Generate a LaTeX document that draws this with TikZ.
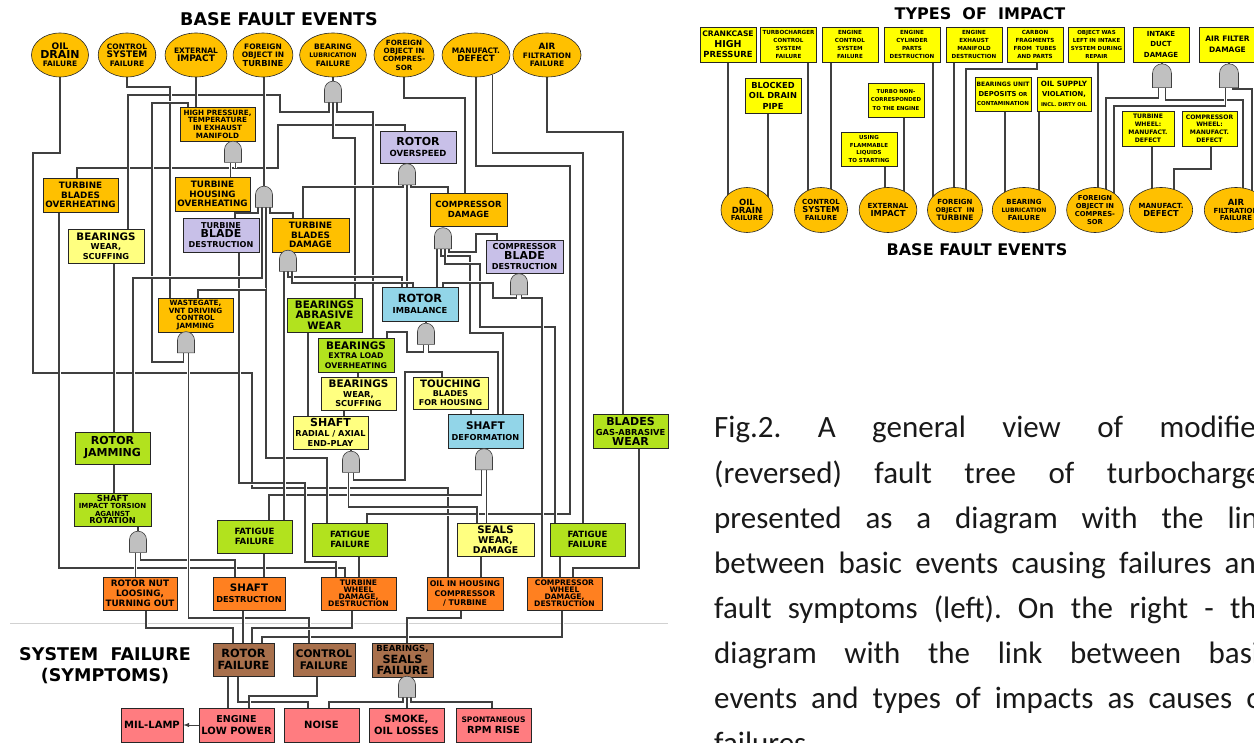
\documentclass[tikz,border=0pt]{standalone}
\usepackage{fontspec}
\setmainfont{DejaVu Sans}
\newfontfamily\capfont{Carlito}
\usepackage{tikz}
\usetikzlibrary{positioning}
\usetikzlibrary{arrows,shapes}
\usetikzlibrary{shapes.geometric,shapes.gates.logic.US}
\definecolor{gold}{RGB}{255,192,0}
\definecolor{lilac}{RGB}{200,192,232}
\definecolor{skyb}{RGB}{146,213,232}
\definecolor{grn}{RGB}{178,226,30}
\definecolor{paley}{RGB}{255,255,128}
\definecolor{orng}{RGB}{255,128,32}
\definecolor{brwn}{RGB}{168,112,76}
\definecolor{pnk}{RGB}{255,124,128}
\definecolor{yel}{RGB}{255,255,0}
\definecolor{wirec}{RGB}{64,64,64}
\definecolor{gatec}{RGB}{192,192,192}
\newcommand{\fs}[1]{\fontsize{#1}{\fpeval{1.12*#1}}\selectfont}
\newcommand{\fp}[2]{\fontsize{#1}{#2}\selectfont}
\tikzstyle{evt}=[ellipse,draw=black!85,fill=gold,line width=0.6pt,minimum width=57pt,minimum height=44pt,inner sep=0pt,align=center,font=\bfseries\fs{7.5}]
\tikzstyle{blk}=[rectangle,draw=black!85,line width=0.7pt,minimum width=76pt,minimum height=33pt,inner sep=0pt,align=center,font=\bfseries\fs{8.5}]
\tikzstyle{ibox}=[blk,fill=yel,minimum width=56pt,minimum height=35pt,font=\bfseries\fs{5.6}]
\tikzstyle{andg}=[and gate US,draw=black!75,fill=gatec,rotate=90,minimum width=19pt,minimum height=17pt,logic gate inputs=nn,logic gate input sep=3.5pt,inner sep=0pt,line width=0.6pt]
\tikzstyle{wire}=[draw=wirec,line width=1.1pt,preaction={draw=white,line width=3pt}]
\tikzstyle{ttl}=[inner sep=0pt,font=\bfseries\fs{17.5}]
\tikzstyle{capline}=[anchor=base west,inner sep=0pt,font=\capfont\fs{31}\frenchspacing,text=black!90]
\pgfdeclarelayer{background}
\pgfsetlayers{background,main}

\begin{document}
\begin{tikzpicture}[x=1pt,y=-1pt]
\useasboundingbox (0,0) rectangle (1254,743);
\clip (0,0) rectangle (1254,743);

 %titles
 \node[ttl] (ttlbase) at (279,19) {BASE FAULT EVENTS};
 \node[ttl,align=center,font={\bfseries\fp{17.5}{21}}] (symp) at (105,666) {SYSTEM\ \ FAILURE\\(SYMPTOMS)};
 \node[ttl,font=\bfseries\fs{16}] (ttltyp) at (980,14) {TYPES\ \ OF\ \ IMPACT};
 \node[ttl,font=\bfseries\fs{16}] (ttlbr) at (977,250) {BASE FAULT EVENTS};

 %base fault events (left)
 \foreach \x/\name/\txt in {60/oild/{{\fs{9}OIL}\\{\fs{11}DRAIN}\\FAILURE},
     127/ctrl/{CONTROL\\{\fs{9}SYSTEM}\\FAILURE},
     196/extr/{EXTERNAL\\{\fs{9}IMPACT}},
     263/fotu/{FOREIGN\\OBJECT\ IN\\{\fs{8.3}TURBINE}},
     333/blub/{BEARING\\{\fs{6.3}LUBRICATION}\\FAILURE},
     404/foco/{{\fs{7.2}FOREIGN}\\{\fs{7.2}OBJECT\ IN}\\{\fs{7.2}COMPRES-}\\{\fs{7.2}SOR}},
     476/mand/{MANUFACT.\\{\fs{8.7}DEFECT}},
     547/airf/{{\fs{8.7}AIR}\\FILTRATION\\FAILURE}}
   \node[evt] (\name) at (\x,55) {\txt};

 %intermediate events
 \node[blk,fill=gold,minimum width=75pt,minimum height=34pt,font={\bfseries\fp{7.2}{7.6}}] (hpt) at (217.5,124) {HIGH PRESSURE,\\TEMPERATURE\\IN EXHAUST\\MANIFOLD};
 \node[blk,fill=gold,minimum width=75pt,minimum height=34pt,font={\bfseries\fp{8.8}{9.6}}] (tbov) at (80.5,195) {TURBINE\\BLADES\\OVERHEATING};
 \node[blk,fill=gold,minimum width=75pt,minimum height=34pt,font={\bfseries\fp{8.8}{9.6}}] (thov) at (212.5,194) {TURBINE\\HOUSING\\OVERHEATING};
 \node[blk,fill=paley,minimum height=34pt,font={\bfseries\fp{8.2}{9.6}}] (bws1) at (106,246) {{\fs{10.3}BEARINGS}\\WEAR,\\SCUFFING};
 \node[blk,fill=lilac,minimum height=34pt,font={\bfseries\fp{8.1}{9.8}}] (tbld) at (221,235) {TURBINE\\{\fs{11}BLADE}\\DESTRUCTION};
 \node[blk,fill=gold,minimum width=77pt,minimum height=34pt,font={\bfseries\fp{8.8}{9.6}}] (tbdm) at (310.5,235) {TURBINE\\BLADES\\DAMAGE};
 \node[blk,fill=lilac,minimum height=32pt,font={\bfseries\fp{8.5}{11}}] (rovs) at (418,147) {{\fs{11}ROTOR}\\OVERSPEED};
 \node[blk,fill=gold,minimum width=77pt,font={\bfseries\fp{8.5}{10.5}}] (cmpd) at (468.5,209.5) {COMPRESSOR\\DAMAGE};
 \node[blk,fill=lilac,minimum width=77pt,font={\bfseries\fp{8.2}{9.6}}] (cbld) at (524.5,256.5) {COMPRESSOR\\{\fs{11}BLADE}\\DESTRUCTION};
 \node[blk,fill=skyb,minimum height=34pt,font={\bfseries\fp{8.3}{11}}] (rimb) at (420,304) {{\fs{11.3}ROTOR}\\IMBALANCE};
 \node[blk,fill=gold,minimum width=75pt,minimum height=34pt,font={\bfseries\fp{7.2}{7.6}}] (wgat) at (195.5,315) {WASTEGATE,\\VNT DRIVING\\CONTROL\\JAMMING};
 \node[blk,fill=grn,minimum width=75pt,minimum height=34pt,font={\bfseries\fp{10.3}{10.4}}] (babr) at (324.5,315) {BEARINGS\\ABRASIVE\\WEAR};
 \node[blk,fill=grn,minimum height=34pt,font={\bfseries\fp{7.8}{9.4}}] (bexl) at (356,355) {{\fs{10.4}BEARINGS}\\EXTRA LOAD\\OVERHEATING};
 \node[blk,fill=paley,minimum width=75pt,font={\bfseries\fp{8.2}{9.4}}] (bws2) at (358.5,393.5) {{\fs{10.4}BEARINGS}\\WEAR,\\SCUFFING};
 \node[blk,fill=paley,minimum width=75pt,minimum height=32pt,font={\bfseries\fp{8}{9.2}}] (touc) at (450.5,393) {{\fs{10.2}TOUCHING}\\BLADES\\FOR HOUSING};
 \node[blk,fill=paley,minimum width=75pt,font={\bfseries\fp{8.2}{9.6}}] (shep) at (330.5,432.5) {{\fs{11}SHAFT}\\RADIAL / AXIAL\\END-PLAY};
 \node[blk,fill=skyb,minimum width=75pt,minimum height=34pt,font={\bfseries\fp{8.2}{11}}] (shdf) at (485.5,431) {{\fs{10.5}SHAFT}\\DEFORMATION};
 \node[blk,fill=grn,minimum width=75pt,minimum height=34pt,font={\bfseries\fp{8.3}{10}}] (bgas) at (630.5,431) {{\fs{11}BLADES}\\GAS-ABRASIVE\\{\fs{11}WEAR}};
 \node[blk,fill=grn,minimum width=75pt,minimum height=32pt,font={\bfseries\fp{11}{12}}] (rjam) at (112.5,448) {ROTOR\\JAMMING};
 \node[blk,fill=grn,minimum width=77pt,font={\bfseries\fp{7}{7.6}}] (sitr) at (112.5,509.5) {{\fs{8.4}SHAFT}\\IMPACT TORSION\\AGAINST\\{\fs{8.2}ROTATION}};
 \foreach \x/\name in {254.5/ftg1, 350/ftg2, 587.5/ftg3}
   \node[blk,fill=grn,minimum width=75pt,font={\bfseries\fp{8.6}{10.5}}] (\name) at (\x,{\x<300 ? 536.5 : 539.5}) {FATIGUE\\FAILURE};
 \node[blk,fill=paley,minimum width=77pt,font={\bfseries\fp{9.3}{10}}] (sewd) at (495.5,539.5) {{\fs{10.3}SEALS}\\WEAR,\\DAMAGE};

 %consequences
 \node[blk,fill=orng,minimum width=74pt,font={\bfseries\fp{8.8}{9.8}}] (rnut) at (140,593.5) {ROTOR NUT\\LOOSING,\\TURNING OUT};
 \node[blk,fill=orng,minimum width=72pt,font={\bfseries\fp{8.2}{11}}] (shds) at (249,593.5) {{\fs{10.3}SHAFT}\\DESTRUCTION};
 \node[blk,fill=orng,minimum width=75pt,font={\bfseries\fp{7.6}{6.9}}] (twdd) at (358.5,593.5) {TURBINE\\WHEEL\\DAMAGE,\\DESTRUCTION};
 \node[blk,fill=orng,font={\bfseries\fp{7.8}{9.2}}] (oihc) at (465,593.5) {OIL IN HOUSING\\COMPRESSOR\\/ TURBINE};
 \node[blk,fill=orng,minimum width=75pt,font={\bfseries\fp{7.6}{6.9}}] (cwdd) at (564.5,593.5) {COMPRESSOR\\WHEEL\\DAMAGE,\\DESTRUCTION};

 %system failure
 \node[blk,fill=brwn,minimum width=61pt,font={\bfseries\fp{11.3}{12.5}}] (rotf) at (243.5,659.5) {ROTOR\\FAILURE};
 \node[blk,fill=brwn,minimum width=62pt,font={\bfseries\fp{10.5}{12.5}}] (ctlf) at (324,659.5) {CONTROL\\FAILURE};
 \node[blk,fill=brwn,minimum width=61pt,minimum height=34pt,font={\bfseries\fp{11.3}{11.4}}] (bsfl) at (402.5,660) {{\fs{8.5}BEARINGS,}\\SEALS\\FAILURE};

 %symptoms
 \node[blk,fill=pnk,minimum width=62pt,minimum height=34pt,font={\bfseries\fp{10}{12}}] (mlmp) at (152,725) {MIL-LAMP};
 \node[blk,fill=pnk,minimum width=75pt,minimum height=34pt,font={\bfseries\fp{10}{11.5}}] (elpw) at (236.5,725) {{\fs{9.5}ENGINE}\\LOW POWER};
 \node[blk,fill=pnk,minimum width=75pt,minimum height=34pt,font={\bfseries\fp{10}{12}}] (nois) at (321.5,725) {NOISE};
 \node[blk,fill=pnk,minimum width=75pt,minimum height=34pt,font={\bfseries\fp{10}{11.5}}] (smol) at (406.5,725) {SMOKE,\\OIL LOSSES};
 \node[blk,fill=pnk,minimum width=75pt,minimum height=34pt,font={\bfseries\fp{9.8}{11}}] (sprr) at (493.5,725) {{\fs{7.6}SPONTANEOUS}\\RPM RISE};

 %gates
 \foreach \x/\y/\name in {333/92.5/gbl, 233/152.5/ghp, 264/197.5/gft, 407/175/gro, 443/239/gcd,
     288/261.5/gtb, 519/285/gcb, 426/334.5/gri, 186/343/gwg, 351/462.5/gsp, 484/460/gsd,
     138/542.5/gsi, 407/687.5/gbs}
   \node[andg] (\name) at (\x,\y) {};

 %types of impact
 \node[ibox,font={\bfseries\fp{7.6}{10.5}}] (crkc) at (728,44.5) {CRANKCASE\\{\fs{9.5}HIGH}\\{\fs{8.4}PRESSURE}};
 \node[ibox,font={\bfseries\fp{5.6}{8.2}}] (tccs) at (788.5,44.5) {TURBOCHARGER\\CONTROL\\SYSTEM\\FAILURE};
 \node[ibox,font={\bfseries\fp{5.6}{8.2}}] (encs) at (850,44.5) {ENGINE\\CONTROL\\SYSTEM\\FAILURE};
 \node[ibox,font={\bfseries\fp{5.6}{8.2}}] (ecyl) at (912,44.5) {ENGINE\\CYLINDER\\PARTS\\DESTRUCTION};
 \node[ibox,font={\bfseries\fp{5.6}{8.2}}] (eexh) at (974,44.5) {ENGINE\\EXHAUST\\MANIFOLD\\DESTRUCTION};
 \node[ibox,font={\bfseries\fp{5.6}{8.2}}] (carb) at (1035,44.5) {CARBON\\FRAGMENTS\\FROM\ \ TUBES\\AND PARTS};
 \node[ibox,font={\bfseries\fp{5.5}{8.2}}] (objl) at (1096.5,44.5) {OBJECT WAS\\LEFT IN INTAKE\\SYSTEM DURING\\REPAIR};
 \node[ibox,font={\bfseries\fp{7}{10.5}}] (intd) at (1161,44.5) {INTAKE\\DUCT\\DAMAGE};
 \node[ibox,minimum width=57pt,font={\bfseries\fp{7.5}{10.5}}] (airr) at (1227.5,44.5) {AIR FILTER\\DAMAGE};
 \node[ibox,font={\bfseries\fp{8.3}{10.5}}] (blkd) at (773,95.5) {BLOCKED\\OIL DRAIN\\PIPE};
 \node[ibox,minimum height=34pt,font={\bfseries\fp{5.4}{8.2}}] (tbnc) at (896,100) {TURBO NON-\\CORRESPONDED\\TO THE ENGINE};
 \node[ibox,minimum height=34pt,font={\bfseries\fp{5.5}{7.6}}] (uflm) at (869,149) {USING\\FLAMMABLE\\LIQUIDS\\TO STARTING};
 \node[ibox,minimum height=34pt,font={\bfseries\fp{5.5}{9.5}}] (bude) at (1003,94) {{\fs{6}BEARINGS UNIT}\\{\fs{6.8}DEPOSITS} OR\\CONTAMINATION};
 \node[ibox,minimum width=54pt,minimum height=34pt,font={\bfseries\fp{5.2}{9.8}}] (oils) at (1064,94) {{\fs{7.2}OIL SUPPLY}\\{\fs{6.8}VIOLATION,}\\INCL. DIRTY OIL};
 \node[ibox,minimum width=52pt,font={\bfseries\fp{6.1}{7.8}}] (twmd) at (1148,128.5) {TURBINE\\WHEEL:\\MANUFACT.\\DEFECT};
 \node[ibox,minimum width=55pt,font={\bfseries\fp{6.1}{7.8}}] (cwmd) at (1209.5,128.5) {COMPRESSOR\\WHEEL:\\MANUFACT.\\DEFECT};
 \foreach \x/\name in {1162/gid, 1229/gaf}
   \node[andg,minimum width=23pt,minimum height=19pt,logic gate input sep=4pt] (\name) at (\x,76.5) {};

 %base fault events (right)
 \foreach \x/\name/\txt in {747/rold/{{\fs{8.5}OIL}\\{\fs{8.5}DRAIN}\\FAILURE},
     821/rctl/{CONTROL\\{\fs{8.2}SYSTEM}\\FAILURE},
     888/rext/{EXTERNAL\\{\fs{8.3}IMPACT}},
     955/rfot/{FOREIGN\\{\fs{6.5}OBJECT\ \ IN}\\{\fs{7.5}TURBINE}},
     1024/rblu/{BEARING\\{\fs{6}LUBRICATION}\\FAILURE},
     1095/rfoc/{{\fs{6.8}FOREIGN}\\{\fs{6.8}OBJECT\ IN}\\{\fs{6.8}COMPRES-}\\{\fs{6.8}SOR}},
     1161/rman/{MANUFACT.\\{\fs{8.2}DEFECT}},
     1236/rair/{{\fs{8.5}AIR}\\FILTRATION\\FAILURE}}
   \node[evt,minimum width=52pt,minimum height=45pt,font=\bfseries\fs{7}] (\name) at (\x,210) {\txt};

 %caption
 \foreach \capt [count=\i] in {{Fig.2. A general view of modified},
     {(reversed) fault tree of turbocharger},
     {presented as a diagram with the link},
     {between basic events causing failures and},
     {fault symptoms (left). On the right - the},
     {diagram with the link between basic},
     {events and types of impacts as causes of}}
   \node[capline] (cap\i) at (714,{438+45*(\i-1)}) {\makebox[558pt][s]{\capt}};
 \node[capline] (cap8) at (714,753) {failures.};

\begin{pgfonlayer}{background}
 \draw[black!18,line width=0.8pt] (10,623) -- (668,623);

 %long runs first
 \path[wire] (oild.south) |- (33,153) -- (33,373) -- (252,373) -- (252,488) -- (448,488) -- (oihc.north -| 448,0);
 \path[wire] (rovs.north -| 405,0) |- (278,125) -- (278,168) -- (77,168) -- (tbov.north -| 77,0);
 \path[wire] ([xshift=-4pt,yshift=-9.5pt]gbl.center) |- (280,112) -- (280,95) -- (128,95) -- (bws1.north -| 128,0);
 \path[wire] (tbov.south -| 59,0) |- (345,568) -- (twdd.north -| 345,0);
 \path[wire] (gsi.input 2) |- (235,560) -- (shds.north -| 235,0);
 \path[wire] (cwdd.south -| 562,0) |- (262,637) -- (rotf.north -| 262,0);
 \path[wire] (mand.south) |- (570,166) -- (570,514) -- (367,514) -- (ftg2.north -| 367,0);
 \path[wire] (mand.-50) |- (583,153) -- (ftg3.north -| 583,0);
 \path[wire] (airf.south) |- (623,132) -- (bgas.north -| 623,0);
 \path[wire] (foco.south) |- (465,98) -- (cmpd.north -| 465,0);
 \path[wire] (ctrl.south) |- (170,87) -- (wgat.north -| 170,0);
 \path[wire] (gwg.input 1) |- (152,362) -- (152,103) -- (188,103) -- (hpt.north -| 188,0);
 \path[wire] (gwg.input 2) |- (309,618) -- (ctlf.north -| 309,0);
 \path[wire] (gsd.input 1) |- (269,495) -- (ftg1.north -| 269,0);
 \path[wire] (tbld.south -| 239,0) |- (305,483) -- (305,562) -- (336,562) -- (twdd.north -| 336,0);
 \path[wire] (bgas.south -| 639,0) |- (573,568) -- (cwdd.north -| 573,0);

 %bearing lubrication gate
 \path[wire] ([yshift=-9.5pt]gbl.center) |- (355,138) -- (babr.north -| 355,0);
 \path[wire] ([xshift=4pt,yshift=-9.5pt]gbl.center) |- (373,112) -- (bexl.north -| 373,0);

 %high pressure gate
 \path[wire] (ghp.input 1) -- (ghp.input 1 |- thov.north);
 \path[wire] (ghp.input 2) -- (ghp.input 2 |- 0,168.5);

 %foreign object in turbine gate
 \path[wire] ([xshift=-6pt,yshift=-9.5pt]gft.center) |- (235,213) -- (tbld.north -| 235,0);
 \path[wire] ([xshift=-2pt,yshift=-9.5pt]gft.center) |- (133,278) -- (rjam.north -| 133,0);
 \path[wire] ([xshift=2pt,yshift=-9.5pt]gft.center) |- (327,458) -- (ftg2.north -| 327,0);
 \path[wire] (wgat.north -| 198,0) |- (266,290);
 \path[wire] ([xshift=6pt,yshift=-9.5pt]gft.center) |- (293,213) -- (tbdm.north -| 293,0);

 %rotor overspeed gate
 \path[wire] ([xshift=-4pt,yshift=-9.5pt]gro.center) |- (303,187) -- (tbdm.north -| 303,0);
 \path[wire] ([yshift=-9.5pt]gro.center) -- (gro.center |- rimb.north);
 \path[wire] ([xshift=4pt,yshift=-9.5pt]gro.center) |- (448,187) -- (cmpd.north -| 448,0);

 %compressor damage gate
 \path[wire] ([xshift=-6pt,yshift=-9.5pt]gcd.center) -- ([xshift=-6pt]gcd.center |- rimb.north);
 \path[wire] ([xshift=-2pt,yshift=-9.5pt]gcd.center) |- (470,256) -- (470,333) -- (503,333) -- (shdf.north -| 503,0);
 \path[wire] ([xshift=2pt,yshift=-9.5pt]gcd.center) |- (480,264) -- (480,327) -- (555,327) -- (ftg3.north -| 555,0);
 \path[wire] ([xshift=6pt,yshift=-9.5pt]gcd.center) |- (476,252) -- (476,234) -- (497,234) -- (cbld.north -| 497,0);

 %turbine blades damage gate
 \path[wire] ([xshift=-4pt,yshift=-9.5pt]gtb.center) -- ([xshift=-4pt]gtb.center |- ftg1.north);
 \path[wire] ([yshift=-9.5pt]gtb.center) |- (402,277) -- (rimb.north -| 402,0);
 \path[wire] ([xshift=4pt,yshift=-9.5pt]gtb.center) |- (413,283) -- (rimb.north -| 413,0);

 %compressor blade gate
 \path[wire] (gcb.input 1) |- (493,298) -- (493,283) -- (443,283) -- (rimb.north -| 443,0);
 \path[wire] (gcb.input 2) |- (542,298) -- (cwdd.north -| 542,0);

 %rotor imbalance gate
 \path[wire] (gri.input 1) |- (407,352) -- (407,332) -- (387,332) -- (bexl.north -| 387,0);
 \path[wire] (gri.input 2) |- (498,352) -- (shdf.north -| 498,0);

 %shaft gates
 \path[wire] (gsp.input 1) |- (477,507) -- (sewd.north -| 477,0);
 \path[wire] (gsp.input 2) |- (405,480) -- (405,372) -- (442,372) -- (touc.north -| 442,0);
 \path[wire] (gsd.input 2) -- (gsd.input 2 |- sewd.north);
 \path[wire] (gsi.input 1) -- (gsi.input 1 |- rnut.north);

 %gate outputs
 \foreach \gname/\pname in {gbl/blub, ghp/hpt, gft/fotu, gro/rovs, gcd/cmpd, gtb/tbdm, gcb/cbld,
     gri/rimb, gwg/wgat, gsp/shep, gsd/shdf, gsi/sitr, gbs/bsfl, gid/intd, gaf/airr}
   \path[wire] (\gname.output) -- (\gname.output |- \pname.south);

 \path[wire] (extr.south) -- (extr.south |- hpt.north);
 \foreach \src/\dst/\x in {bws1/rjam/114, rjam/sitr/114, babr/shep/308, bexl/bws2/358, bws2/shep/344,
     touc/shdf/471, ftg1/shds/264, ftg2/twdd/359, sewd/oihc/481, ftg3/cwdd/560, shds/rotf/243, rotf/elpw/228}
   \path[wire] (\src.south -| \x,0) -- (\dst.north -| \x,0);

 %to system failure
 \path[wire] (rnut.south -| 146,0) |- (233,628) -- (rotf.north -| 233,0);
 \path[wire] (twdd.south -| 352,0) |- (252,628) -- (rotf.north -| 252,0);
 \path[wire] (oihc.south -| 461,0) |- (407,618) -- (bsfl.north -| 407,0);

 %to symptoms
 \path[wire] (rotf.south -| 238,0) |- (308,702) -- (nois.north -| 308,0);
 \path[wire] (ctlf.south -| 317,0) |- (249,696) -- (elpw.north -| 249,0);
 \path[wire] ([xshift=-4pt,yshift=-9.5pt]gbs.center) |- (329,702) -- (nois.north -| 329,0);
 \path[wire] ([yshift=-9.5pt]gbs.center) -- (gbs.center |- smol.north);
 \path[wire] ([xshift=4pt,yshift=-9.5pt]gbs.center) |- (492,702) -- (sprr.north -| 492,0);
 \draw[wirec,line width=1pt,-latex] (elpw.west) -- (mlmp.east);

 %types of impact to base events
 \foreach \src/\dst/\x in {crkc/rold/728, blkd/rold/768, tccs/rctl/808, encs/rctl/831, uflm/rext/885,
     tbnc/rext/904, ecyl/rfot/933, eexh/rfot/954, bude/rblu/1005, oils/rblu/1039, objl/rfoc/1098, twmd/rman/1152}
   \path[wire] (\src.south -| \x,0) -- (\dst.center -| \x,0);
 \path[wire] (carb.south -| 1037,0) |- (966,69) -- (rfot.center -| 966,0);
 \path[wire] (cwmd.south -| 1211,0) |- (1174,169) -- (rman.center -| 1174,0);
 \path[wire] (gid.input 1) |- (1106,98) -- (rfoc.center -| 1106,0);
 \path[wire] (gid.input 2) |- (1243,100) -- (rair.center -| 1243,0);
 \path[wire] (gaf.input 1) |- (1114,106) -- (rfoc.center -| 1114,0);
 \path[wire] (gaf.input 2) |- (1252,89) -- (rair.center -| 1252,0);
\end{pgfonlayer}
\end{tikzpicture}
\end{document}
